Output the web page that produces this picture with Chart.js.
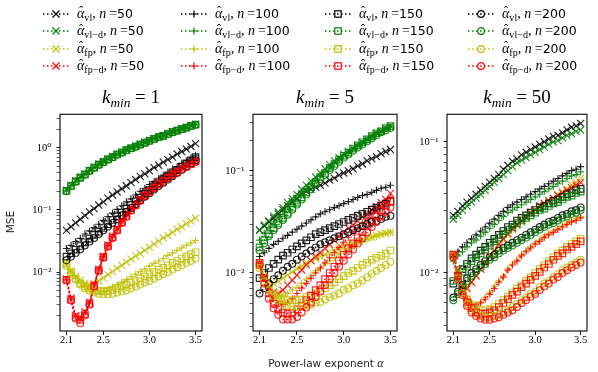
<!DOCTYPE html>
<html><head><meta charset="utf-8">
<script src="https://cdn.jsdelivr.net/npm/chart.js@4.4.0/dist/chart.umd.min.js"></script>
<style>
html,body{margin:0;padding:0;background:#fff;}
#wrap{position:relative;width:598px;height:372px;overflow:hidden;}
canvas{position:absolute;}
.ttl{position:absolute;font-family:'Liberation Serif','DejaVu Serif',serif;font-size:19px;line-height:19px;white-space:nowrap;transform:translateX(-50%);color:#000;}
.ttl sub{font-size:0.7em;vertical-align:-0.3em;line-height:0;}
.lg{position:absolute;height:16px;display:flex;align-items:center;white-space:nowrap;color:#000;}
.lg .t{margin-left:8px;font-family:'Liberation Serif','DejaVu Serif',serif;font-size:14px;line-height:16px;}
.lg .t i{font-style:italic;}
.lg .t sub{font-size:0.72em;vertical-align:-0.3em;line-height:0;font-style:normal;}
.lg .t .s{font-family:'DejaVu Sans',sans-serif;font-size:12.5px;}
.lg .t .eq{margin-left:3px;}
.ah{position:relative;display:inline-block;}
.ah .hat{position:absolute;left:0.16em;top:-0.16em;font-style:normal;font-size:0.9em;line-height:16px;}
.lab{position:absolute;font-family:'DejaVu Sans',sans-serif;font-size:10.5px;white-space:nowrap;color:#222;}
</style></head>
<body><div id="wrap"></div>
<script>
// ---------------- data ----------------
const alpha = [2.1,2.15,2.2,2.25,2.3,2.35,2.4,2.45,2.5,2.55,2.6,2.65,2.7,2.75,2.8,2.85,2.9,2.95,3.0,3.05,3.1,3.15,3.2,3.25,3.3,3.35,3.4,3.45,3.5];
const nValues = [50,100,150,200];
const estimatorSubs = ['vl','vl\u2212d','fp','fp\u2212d'];
const kminValues = [1,5,50];
const xTicks = [2.1,2.5,3.0,3.5];
const xTickLabels = ['2.1','2.5','3.0','3.5'];
const yDecadeLabels = {'-2':'10\u207B\u00B2','-1':'10\u207B\u00B9','0':'10\u2070'};

// k_min = 1
const k1_vl_50 = [0.047,0.054,0.062,0.071,0.081,0.093,0.105,0.12,0.135,0.155,0.174,0.195,0.219,0.245,0.275,0.309,0.347,0.38,0.427,0.479,0.525,0.589,0.646,0.708,0.794,0.871,0.955,1.05,1.17];
const k1_vl_100 = [0.024,0.027,0.031,0.035,0.041,0.046,0.052,0.059,0.068,0.078,0.089,0.102,0.117,0.135,0.151,0.174,0.2,0.224,0.257,0.288,0.324,0.363,0.407,0.457,0.501,0.562,0.617,0.692,0.759];
const k1_vl_150 = [0.0178,0.02,0.0229,0.0263,0.0302,0.0347,0.0398,0.0447,0.0513,0.0589,0.069,0.079,0.091,0.105,0.12,0.138,0.158,0.182,0.209,0.24,0.269,0.309,0.347,0.389,0.437,0.501,0.562,0.631,0.708];
const k1_vl_200 = [0.0155,0.0178,0.0204,0.0234,0.027,0.031,0.0355,0.041,0.047,0.054,0.062,0.071,0.082,0.094,0.108,0.124,0.142,0.163,0.186,0.213,0.243,0.275,0.31,0.35,0.395,0.445,0.5,0.56,0.63];
const k1_vld_50 = [0.209,0.251,0.295,0.339,0.38,0.437,0.49,0.55,0.603,0.661,0.724,0.794,0.851,0.933,1.0,1.07,1.15,1.23,1.32,1.41,1.51,1.58,1.7,1.82,1.91,2.04,2.14,2.29,2.4];
const k1_vld_100 = [0.205,0.246,0.29,0.335,0.377,0.43,0.485,0.54,0.595,0.655,0.715,0.785,0.845,0.925,0.99,1.06,1.14,1.22,1.31,1.4,1.5,1.57,1.68,1.8,1.9,2.02,2.12,2.27,2.38];
const k1_vld_150 = [0.203,0.244,0.288,0.332,0.374,0.427,0.48,0.537,0.59,0.65,0.71,0.78,0.84,0.92,0.985,1.05,1.13,1.21,1.3,1.39,1.49,1.56,1.67,1.79,1.89,2.0,2.11,2.25,2.36];
const k1_vld_200 = [0.2,0.242,0.285,0.33,0.37,0.423,0.476,0.533,0.585,0.645,0.705,0.775,0.835,0.915,0.98,1.04,1.12,1.2,1.29,1.38,1.48,1.55,1.66,1.78,1.88,1.99,2.1,2.24,2.35];
const k1_fp_50 = [0.0135,0.0105,0.0085,0.0074,0.0066,0.0063,0.0065,0.0072,0.0081,0.0091,0.0102,0.0115,0.0129,0.0145,0.0162,0.0182,0.02,0.0224,0.0251,0.0282,0.0316,0.0355,0.0389,0.0437,0.049,0.0537,0.0603,0.0661,0.0741];
const k1_fp_100 = [0.0135,0.01,0.0079,0.0066,0.0058,0.0052,0.005,0.0049,0.005,0.0054,0.0058,0.0063,0.0069,0.0076,0.0085,0.0093,0.0102,0.0112,0.0126,0.0138,0.0151,0.0166,0.0186,0.0204,0.0224,0.0245,0.0269,0.0295,0.0324];
const k1_fp_150 = [0.0135,0.01,0.0079,0.0066,0.0059,0.0054,0.0051,0.005,0.0049,0.005,0.0052,0.0055,0.0059,0.0063,0.0068,0.0072,0.0079,0.0085,0.0093,0.01,0.011,0.0117,0.0129,0.0141,0.0151,0.0166,0.0178,0.0195,0.0209];
const k1_fp_200 = [0.0126,0.0095,0.0076,0.0063,0.0055,0.005,0.0047,0.0045,0.0044,0.0044,0.0045,0.0047,0.0049,0.0051,0.0055,0.0059,0.0063,0.0068,0.0072,0.0079,0.0085,0.0093,0.01,0.011,0.012,0.0129,0.0141,0.0151,0.0166];
const k1_fpd_50 = [0.0078,0.0038,0.002,0.0018,0.0023,0.0033,0.0063,0.0112,0.018,0.0275,0.038,0.05,0.066,0.083,0.104,0.126,0.151,0.178,0.209,0.24,0.275,0.309,0.347,0.389,0.427,0.479,0.525,0.575,0.631];
const k1_fpd_100 = [0.0076,0.0037,0.0019,0.00174,0.0022,0.0032,0.0062,0.011,0.0178,0.0269,0.0372,0.049,0.0646,0.0813,0.102,0.123,0.148,0.174,0.204,0.234,0.269,0.302,0.339,0.38,0.417,0.468,0.513,0.562,0.617];
const k1_fpd_150 = [0.0075,0.0036,0.0019,0.0017,0.0021,0.0031,0.006,0.0107,0.0174,0.0263,0.0363,0.0479,0.0631,0.0794,0.1,0.12,0.145,0.17,0.2,0.229,0.263,0.295,0.331,0.372,0.407,0.457,0.501,0.55,0.603];
const k1_fpd_200 = [0.0074,0.0035,0.0018,0.0015,0.002,0.003,0.0059,0.0105,0.017,0.0257,0.0355,0.0468,0.0617,0.0776,0.098,0.118,0.141,0.166,0.195,0.224,0.257,0.288,0.324,0.363,0.398,0.447,0.49,0.537,0.589];

// k_min = 5
const k5_vl_50 = [0.0263,0.0288,0.0316,0.0347,0.038,0.0417,0.0457,0.0501,0.0537,0.0589,0.0631,0.0661,0.0692,0.0724,0.0759,0.0813,0.0851,0.0912,0.0955,0.1,0.105,0.112,0.117,0.126,0.132,0.138,0.148,0.155,0.162];
const k5_vl_100 = [0.0145,0.0158,0.0174,0.0191,0.0204,0.0219,0.0234,0.0251,0.0269,0.0288,0.0309,0.0331,0.0355,0.038,0.0398,0.0417,0.0437,0.0457,0.0479,0.0501,0.0525,0.055,0.0575,0.0589,0.0617,0.0646,0.0676,0.0692,0.0724];
const k5_vl_150 = [0.0089,0.01,0.0112,0.0123,0.0135,0.0148,0.0158,0.017,0.0182,0.0195,0.0209,0.0224,0.024,0.0251,0.0263,0.0275,0.0288,0.0302,0.0316,0.0331,0.0347,0.0363,0.038,0.0398,0.0417,0.0437,0.0457,0.0479,0.0501];
const k5_vl_200 = [0.0063,0.0071,0.0079,0.0087,0.0095,0.0105,0.0115,0.0123,0.0135,0.0145,0.0155,0.0166,0.0178,0.0191,0.02,0.0209,0.0219,0.0229,0.024,0.0251,0.0263,0.0275,0.0288,0.0302,0.0316,0.0324,0.0339,0.0355,0.0363];
const k5_vld_50 = [0.0263,0.0295,0.0324,0.0363,0.0398,0.0437,0.049,0.0537,0.0589,0.0661,0.0724,0.0794,0.0871,0.0955,0.105,0.115,0.126,0.135,0.145,0.155,0.166,0.178,0.191,0.204,0.219,0.234,0.245,0.263,0.275];
const k5_vld_100 = [0.021,0.0245,0.028,0.0316,0.0355,0.0398,0.0447,0.05,0.055,0.0617,0.0676,0.0741,0.0813,0.0891,0.098,0.107,0.118,0.129,0.14,0.151,0.162,0.174,0.186,0.2,0.214,0.229,0.24,0.257,0.27];
const k5_vld_150 = [0.0178,0.0209,0.024,0.0275,0.0309,0.0347,0.0389,0.0437,0.049,0.055,0.0617,0.0692,0.0776,0.0871,0.0955,0.107,0.117,0.129,0.141,0.151,0.166,0.178,0.191,0.204,0.219,0.234,0.245,0.263,0.275];
const k5_vld_200 = [0.0166,0.0195,0.0229,0.0263,0.0295,0.0331,0.0372,0.0417,0.0468,0.0525,0.0589,0.0661,0.0741,0.0832,0.0912,0.102,0.112,0.123,0.135,0.145,0.158,0.17,0.182,0.195,0.209,0.224,0.24,0.251,0.263];
const k5_fp_50 = [0.012,0.0095,0.0083,0.0079,0.0083,0.0089,0.0095,0.0102,0.011,0.0117,0.0126,0.0132,0.0138,0.0145,0.0151,0.0158,0.0166,0.0174,0.0182,0.0191,0.0195,0.0204,0.0209,0.0219,0.0224,0.0234,0.024,0.0245,0.0251];
const k5_fp_100 = [0.012,0.0089,0.0072,0.0063,0.006,0.006,0.0063,0.0068,0.0072,0.0079,0.0087,0.0095,0.0105,0.0112,0.0123,0.0132,0.0141,0.0151,0.0162,0.0174,0.0182,0.0195,0.0204,0.0214,0.0224,0.0229,0.024,0.0245,0.0251];
const k5_fp_150 = [0.012,0.0089,0.0072,0.0063,0.0058,0.0055,0.0054,0.0054,0.0054,0.0055,0.0058,0.006,0.0063,0.0066,0.0071,0.0076,0.0081,0.0087,0.0093,0.01,0.0105,0.0112,0.012,0.0126,0.0135,0.0141,0.0148,0.0155,0.0166];
const k5_fp_200 = [0.0112,0.0083,0.0068,0.0059,0.0054,0.005,0.0048,0.0047,0.0047,0.0047,0.0048,0.0049,0.0051,0.0052,0.0055,0.0058,0.006,0.0063,0.0068,0.0071,0.0076,0.0079,0.0085,0.0091,0.0098,0.0105,0.0112,0.012,0.0129];
const k5_fpd_50 = [0.0126,0.0089,0.0072,0.0065,0.0063,0.0068,0.0076,0.0085,0.0095,0.0107,0.012,0.0132,0.0145,0.0158,0.0174,0.0191,0.0209,0.0229,0.0251,0.0275,0.0295,0.0324,0.0355,0.038,0.0417,0.0447,0.049,0.0525,0.0603];
const k5_fpd_100 = [0.0126,0.0089,0.0068,0.0056,0.005,0.0049,0.0051,0.0056,0.0063,0.0071,0.0079,0.0089,0.01,0.0112,0.0126,0.0141,0.0158,0.0178,0.02,0.0224,0.0251,0.0275,0.0309,0.0339,0.038,0.0417,0.0457,0.0501,0.055];
const k5_fpd_150 = [0.0126,0.0089,0.0063,0.005,0.0044,0.0041,0.004,0.0041,0.0044,0.0048,0.0054,0.006,0.0068,0.0076,0.0087,0.01,0.0115,0.0132,0.0151,0.0174,0.0195,0.0224,0.0251,0.0288,0.0324,0.0363,0.0407,0.0457,0.0501];
const k5_fpd_200 = [0.012,0.0079,0.0056,0.0045,0.0039,0.0035,0.0035,0.0035,0.0037,0.0041,0.0046,0.0051,0.0058,0.0066,0.0076,0.0087,0.01,0.0115,0.0132,0.0151,0.017,0.0195,0.0219,0.0251,0.0282,0.0316,0.0355,0.0398,0.0437];

// k_min = 50
const k50_vl_50 = [0.0275,0.0295,0.0324,0.0347,0.0372,0.0398,0.0427,0.0457,0.049,0.0525,0.0562,0.0617,0.0661,0.0708,0.0741,0.0794,0.0832,0.0871,0.0912,0.0955,0.1,0.105,0.11,0.112,0.117,0.123,0.129,0.132,0.138];
const k50_vl_100 = [0.0132,0.0145,0.0158,0.017,0.0182,0.0195,0.0209,0.0224,0.024,0.0257,0.0275,0.0295,0.0316,0.0331,0.0347,0.0363,0.038,0.0398,0.0417,0.0437,0.0457,0.0479,0.0501,0.0525,0.055,0.0575,0.0603,0.0617,0.0646];
const k50_vl_150 = [0.0083,0.0095,0.0107,0.0117,0.0129,0.0138,0.0148,0.0158,0.017,0.0182,0.0195,0.0209,0.0224,0.0234,0.0251,0.0263,0.0275,0.0288,0.0302,0.0316,0.0324,0.0339,0.0355,0.0363,0.038,0.0398,0.0407,0.0427,0.0437];
const k50_vl_200 = [0.0065,0.0072,0.0081,0.0091,0.01,0.0107,0.0115,0.0123,0.0132,0.0138,0.0148,0.0155,0.0162,0.017,0.0178,0.0186,0.0195,0.0204,0.0214,0.0224,0.0234,0.0245,0.0251,0.0263,0.0275,0.0282,0.0295,0.0302,0.0316];
const k50_vld_50 = [0.0257,0.0275,0.03,0.0324,0.0347,0.0372,0.0398,0.0427,0.0457,0.049,0.0525,0.0562,0.0603,0.0646,0.0692,0.0724,0.0759,0.0794,0.0832,0.0871,0.0912,0.0955,0.1,0.102,0.107,0.112,0.115,0.12,0.123];
const k50_vld_100 = [0.0123,0.0135,0.0145,0.0158,0.017,0.0178,0.0191,0.0204,0.0219,0.0234,0.0251,0.0269,0.0288,0.0302,0.0316,0.0331,0.0347,0.0363,0.038,0.0398,0.0417,0.0437,0.0457,0.0479,0.0501,0.0525,0.055,0.0562,0.0589];
const k50_vld_150 = [0.0087,0.0093,0.0102,0.0112,0.0123,0.0132,0.0141,0.0151,0.0162,0.0174,0.0186,0.02,0.0214,0.0224,0.024,0.0251,0.0263,0.0275,0.0288,0.0302,0.0309,0.0324,0.0339,0.0347,0.0363,0.038,0.0389,0.0407,0.0417];
const k50_vld_200 = [0.0062,0.0069,0.0078,0.0087,0.0095,0.0102,0.011,0.0117,0.0126,0.0132,0.0141,0.0148,0.0155,0.0162,0.017,0.0178,0.0186,0.0195,0.0204,0.0214,0.0224,0.0234,0.024,0.0251,0.0263,0.0269,0.0282,0.0288,0.0302];
const k50_fp_50 = [0.0138,0.0105,0.008,0.0078,0.0085,0.0095,0.0107,0.0117,0.0132,0.0145,0.0162,0.0178,0.0195,0.0214,0.0229,0.0245,0.0263,0.0282,0.0302,0.0324,0.0339,0.0355,0.0372,0.0398,0.0417,0.0437,0.0468,0.049,0.0525];
const k50_fp_100 = [0.0138,0.0102,0.0078,0.0066,0.006,0.0058,0.006,0.0065,0.0071,0.0079,0.0087,0.0095,0.0107,0.0117,0.0126,0.0138,0.0148,0.0158,0.017,0.0178,0.0191,0.02,0.0209,0.0219,0.0229,0.024,0.0251,0.0257,0.0269];
const k50_fp_150 = [0.0138,0.0098,0.0075,0.0063,0.0056,0.0053,0.0052,0.0052,0.0053,0.0055,0.0058,0.0062,0.0066,0.0071,0.0076,0.0081,0.0087,0.0093,0.01,0.0107,0.0115,0.0123,0.0132,0.0141,0.0148,0.0158,0.0166,0.0174,0.0182];
const k50_fp_200 = [0.0132,0.0091,0.007,0.0058,0.0052,0.0049,0.0047,0.0046,0.0046,0.0047,0.0048,0.005,0.0052,0.0055,0.0058,0.0062,0.0065,0.0069,0.0072,0.0078,0.0083,0.0087,0.0093,0.0098,0.0105,0.011,0.0115,0.012,0.0126];
const k50_fpd_50 = [0.0138,0.0105,0.0079,0.0076,0.0085,0.0095,0.0107,0.012,0.0135,0.0148,0.0166,0.0182,0.02,0.0219,0.0234,0.0251,0.0269,0.0288,0.0302,0.0324,0.0339,0.0355,0.0372,0.0389,0.0407,0.0427,0.0447,0.0468,0.049];
const k50_fpd_100 = [0.0138,0.01,0.0076,0.0063,0.0058,0.0056,0.0059,0.0063,0.0069,0.0076,0.0085,0.0093,0.0105,0.0115,0.0123,0.0135,0.0145,0.0155,0.0166,0.0174,0.0186,0.0195,0.0204,0.0214,0.0224,0.0234,0.0245,0.0251,0.0263];
const k50_fpd_150 = [0.0138,0.0095,0.0072,0.006,0.0054,0.005,0.0049,0.0049,0.005,0.0052,0.0055,0.0059,0.0063,0.0068,0.0072,0.0078,0.0083,0.0089,0.0095,0.0102,0.011,0.0117,0.0126,0.0135,0.0141,0.0151,0.0158,0.0166,0.0174];
const k50_fpd_200 = [0.0132,0.0089,0.0068,0.0056,0.005,0.0047,0.0045,0.0044,0.0044,0.0045,0.0046,0.0048,0.005,0.0052,0.0055,0.0059,0.0062,0.0066,0.0069,0.0074,0.0079,0.0083,0.0089,0.0093,0.01,0.0105,0.011,0.0115,0.012];

// series[estimator][n-index]
const K1 = [[k1_vl_50,k1_vl_100,k1_vl_150,k1_vl_200],[k1_vld_50,k1_vld_100,k1_vld_150,k1_vld_200],[k1_fp_50,k1_fp_100,k1_fp_150,k1_fp_200],[k1_fpd_50,k1_fpd_100,k1_fpd_150,k1_fpd_200]];
const K5 = [[k5_vl_50,k5_vl_100,k5_vl_150,k5_vl_200],[k5_vld_50,k5_vld_100,k5_vld_150,k5_vld_200],[k5_fp_50,k5_fp_100,k5_fp_150,k5_fp_200],[k5_fpd_50,k5_fpd_100,k5_fpd_150,k5_fpd_200]];
const K50 = [[k50_vl_50,k50_vl_100,k50_vl_150,k50_vl_200],[k50_vld_50,k50_vld_100,k50_vld_150,k50_vld_200],[k50_fp_50,k50_fp_100,k50_fp_150,k50_fp_200],[k50_fpd_50,k50_fpd_100,k50_fpd_150,k50_fpd_200]];

// ---------------- styles ----------------
const estColors = ['#000000','#008000','#bfbf00','#ff0000'];
const estColorsA = ['rgba(0,0,0,0.85)','rgba(0,128,0,0.85)','rgba(191,191,0,0.85)','rgba(255,0,0,0.85)'];
const nMarkers = ['crossRot','cross','rect','circle'];
const nRadius = [5,3.5,4.6,3.4];
const SERIF = "'Liberation Serif','DejaVu Serif',serif";

const panels = [
  {series:K1, area:{l:60,r:202,t:113,b:331}, yMin:0.00113, yMax:3.46},
  {series:K5, area:{l:253,r:397,t:113,b:331}, yMin:0.0027, yMax:0.359},
  {series:K50, area:{l:447,r:587,t:113,b:331}, yMin:0.00361, yMax:0.162}
];

const wrap = document.getElementById('wrap');

const framePlugin = {
  id:'frame',
  afterDraw(chart){
    const {ctx, chartArea:a} = chart;
    ctx.save();
    ctx.strokeStyle = '#1a1a1a';
    ctx.lineWidth = 1.2;
    ctx.strokeRect(a.left, a.top, a.right - a.left, a.bottom - a.top);
    ctx.restore();
  }
};

function isDecade(v){
  const l = Math.log10(v);
  return Math.abs(l - Math.round(l)) < 1e-9;
}

const PAD_L = 55, PAD_R = 15, PAD_T = 10, XH = 35;

panels.forEach((p, pi) => {
  const a = p.area;
  const cv = document.createElement('canvas');
  const W = (a.r - a.l) + PAD_L + PAD_R;
  const H = (a.b - a.t) + PAD_T + XH;
  cv.width = W; cv.height = H;
  cv.style.left = (a.l - PAD_L) + 'px';
  cv.style.top = (a.t - PAD_T) + 'px';
  cv.style.width = W + 'px'; cv.style.height = H + 'px';
  wrap.appendChild(cv);

  const datasets = [];
  for (let ni = 0; ni < nValues.length; ni++) {
    for (let ei = 0; ei < estimatorSubs.length; ei++) {
      const vals = p.series[ei][ni];
      datasets.push({
        data: alpha.map((x, i) => ({x: x, y: vals[i]})),
        borderColor: estColors[ei],
        borderWidth: 1.5,
        borderDash: [1.5, 2.5],
        borderCapStyle: 'butt',
        fill: false,
        tension: 0,
        pointStyle: nMarkers[ni],
        pointRadius: nRadius[ni],
        pointBorderWidth: 1.15,
        pointBorderColor: estColorsA[ei],
        pointBackgroundColor: 'rgba(0,0,0,0)'
      });
    }
  }
  datasets.reverse(); // last plotted on top

  const yTicks = [];
  const e0 = Math.floor(Math.log10(p.yMin)), e1 = Math.ceil(Math.log10(p.yMax));
  for (let e = e0; e <= e1; e++) {
    for (let m = 1; m <= 9; m++) {
      const v = Number((m * Math.pow(10, e)).toPrecision(6));
      if (v >= p.yMin && v <= p.yMax) yTicks.push(v);
    }
  }

  new Chart(cv, {
    type: 'line',
    data: {datasets},
    options: {
      responsive: false,
      animation: false,
      devicePixelRatio: 1,
      layout: {padding: {left: 0, right: PAD_R, top: PAD_T, bottom: 0}},
      plugins: {legend: {display: false}, tooltip: {enabled: false}, title: {display: false}},
      scales: {
        x: {
          type: 'linear', min: 2.03, max: 3.57,
          afterBuildTicks: s => { s.ticks = xTicks.map(v => ({value: v})); },
          afterFit: s => { s.height = XH; },
          ticks: {callback: (v, i) => xTickLabels[i], autoSkip: false, maxRotation: 0, padding: -1,
                  color: '#000', font: {family: SERIF, size: 10.5}},
          grid: {drawOnChartArea: false, drawTicks: true, tickLength: 4, color: '#1a1a1a', tickWidth: 1},
          border: {display: false}
        },
        y: {
          type: 'logarithmic', min: p.yMin, max: p.yMax,
          afterBuildTicks: s => { s.ticks = yTicks.map(v => ({value: v})); },
          afterFit: s => { s.width = PAD_L; },
          ticks: {
            callback: v => isDecade(v) ? yDecadeLabels[String(Math.round(Math.log10(v)))] : '',
            autoSkip: false, padding: 5, color: '#000', font: {family: SERIF, size: 10.5}
          },
          grid: {drawOnChartArea: false, drawTicks: true, tickLength: 3.5, color: '#1a1a1a',
                 tickWidth: c => (c.tick && isDecade(c.tick.value)) ? 1 : 0.7},
          border: {display: false}
        }
      }
    },
    plugins: [framePlugin]
  });

  const t = document.createElement('div');
  t.className = 'ttl';
  t.style.left = ((a.l + a.r) / 2) + 'px';
  t.style.top = '87px';
  t.innerHTML = '<i>k</i><sub><i>min</i></sub> = ' + kminValues[pi];
  wrap.appendChild(t);
});

// axis labels
const ylab = document.createElement('div');
ylab.className = 'lab';
ylab.textContent = 'MSE';
ylab.style.left = '10px'; ylab.style.top = '222px';
ylab.style.transform = 'translate(-50%,-50%) rotate(-90deg)';
wrap.appendChild(ylab);

const xlab = document.createElement('div');
xlab.className = 'lab';
xlab.innerHTML = 'Power-law exponent <i style="font-family:' + SERIF + ';font-size:12px">\u03B1</i>';
xlab.style.left = '326px'; xlab.style.top = '363px';
xlab.style.transform = 'translate(-50%,-50%)';
wrap.appendChild(xlab);

// legend
const legColX = [43, 181, 325, 468];
const legRowY = [13.5, 31, 48.5, 66];
function swatch(color, marker){
  const cx = 13, cy = 6;
  let m = '';
  if (marker === 'crossRot') m = `<path d="M${cx-3.5} ${cy-3.5}L${cx+3.5} ${cy+3.5}M${cx-3.5} ${cy+3.5}L${cx+3.5} ${cy-3.5}" stroke="${color}" stroke-width="1.2" fill="none"/>`;
  else if (marker === 'cross') m = `<path d="M${cx-3.5} ${cy}L${cx+3.5} ${cy}M${cx} ${cy-3.5}L${cx} ${cy+3.5}" stroke="${color}" stroke-width="1.2" fill="none"/>`;
  else if (marker === 'rect') m = `<rect x="${cx-3.2}" y="${cy-3.2}" width="6.4" height="6.4" stroke="${color}" stroke-width="1.2" fill="none"/>`;
  else m = `<circle cx="${cx}" cy="${cy}" r="3.4" stroke="${color}" stroke-width="1.2" fill="none"/>`;
  return `<svg width="26" height="12" style="display:block"><line x1="0" y1="${cy}" x2="26" y2="${cy}" stroke="${color}" stroke-width="1.5" stroke-dasharray="1.5 2.5"/>${m}</svg>`;
}
for (let ni = 0; ni < nValues.length; ni++) {
  for (let ei = 0; ei < estimatorSubs.length; ei++) {
    const d = document.createElement('div');
    d.className = 'lg';
    d.style.left = legColX[ni] + 'px';
    d.style.top = (legRowY[ei] - 8) + 'px';
    d.innerHTML = swatch(estColors[ei], nMarkers[ni]) +
      `<span class="t"><span class="ah"><i>\u03B1</i><span class="hat">\u02C6</span></span><sub>${estimatorSubs[ei]}</sub>, <i>n</i><span class="eq">=</span><span class="s">${nValues[ni]}</span></span>`;
    wrap.appendChild(d);
  }
}
</script>
</body></html>
